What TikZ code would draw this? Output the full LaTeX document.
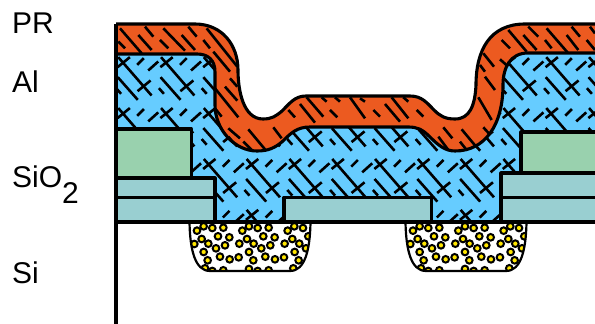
\documentclass[tikz,border=0pt]{standalone}
\usepackage{fontspec}
\setmainfont{Liberation Sans}
\definecolor{alblue}{HTML}{66CCFF}
\definecolor{prorange}{HTML}{EC5A20}
\definecolor{oxgreen}{HTML}{99D1AE}
\definecolor{oxteal}{HTML}{99CFD1}
\definecolor{dopeyellow}{HTML}{FFE600}
\def\outerpath{(116,24) -- (195,24) .. controls (222,24) and (238,45) .. (238,70) .. controls (238,90) and (243,119) .. (263,119) .. controls (272,119) and (276,116) .. (282,111) .. controls (290,103) and (295,96) .. (306,96) -- (410,96) .. controls (422,96) and (427,103) .. (434,110) .. controls (440,116) and (445,119) .. (455,119) .. controls (470,119) and (475,105) .. (476,85) .. controls (476,50) and (490,24) .. (525,24) -- (596,24)}
\def\lowerpath{(596,53) -- (528,53) .. controls (510,53) and (503,68) .. (503,85) .. controls (503,125) and (485,151) .. (455,151) .. controls (445,151) and (438,145) .. (430,137) .. controls (422,129) and (417,127) .. (408,127) -- (310,127) .. controls (297,127) and (291,133) .. (283,141) .. controls (275,148) and (268,151) .. (257,151) .. controls (235,151) and (215,130) .. (215,105) -- (215,72) .. controls (215,60) and (208,54) .. (197,54) -- (116,54)}
\def\wellpath{(189.5,222) .. controls (190,250) and (195,271) .. (210,271) -- (290,271) .. controls (305,271) and (310,250) .. (310.5,222)}
\tikzset{
  outline/.style={line width=3.1pt,draw=black,line join=round},
  hatch/.style={line width=2.6pt,draw=black},
  layerrect/.style={outline},
  label/.style={inner sep=0pt,anchor=base west,font=\fontsize{30pt}{30pt}\selectfont},
}
\begin{document}
\begin{tikzpicture}[x=1pt,y=-1pt]
\useasboundingbox (0,0) rectangle (595,324);
\fill[white] (0,0) rectangle (595,324);
% aluminium layer
\fill[alblue] \lowerpath -- (116,222) -- (596,222) -- cycle;
\begin{scope}
\clip \lowerpath -- (116,222) -- (596,222) -- cycle;
\foreach \i in {-2,...,11}{
 \foreach \j in {-1,...,3}{
  \begin{scope}[shift={({166.7+\i*42.8},{61.5+\j*50.9})},x=0.3333pt,y=-0.3333pt]
   \draw[hatch] (-19,17) -- (18,-13);
   \draw[hatch] (-17,-13) -- (83,102);
   \draw[hatch] (40,10) -- (60,-10);
   \draw[hatch] (73,27) -- (103,0);
   \draw[hatch] (41,89) -- (80,57);
   \draw[hatch] (110,47) -- (170,115);
   \draw[hatch] (105,80) -- (120,97);
  \end{scope}
 }
}
\end{scope}
% photoresist layer
\fill[prorange] \outerpath -- \lowerpath -- cycle;
\begin{scope}
\clip \outerpath -- \lowerpath -- cycle;
\begin{scope}[shift={(100,10)},x=0.3333pt,y=-0.3333pt]
\foreach \a/\b/\c/\d in {60/55/125/130,135/50/160/80,190/55/255/122,265/50/290/80,320/55/412/170,115/75/155/120,245/75/285/120,55/95/75/115,180/90/205/115,310/90/330/115,340/125/390/185,390/205/412/230,375/230/412/272,345/235/415/322,345/295/365/320,385/355/420/385,385/380/410/410,445/358/495/418,520/352/545/385,430/395/455/420,565/300/585/322,600/282/645/338,620/262/670/320,690/300/712/322,665/262/680/275,705/262/720/275}
 {\draw[hatch] (\a,\b) -- (\c,\d);}
\end{scope}
\begin{scope}[shift={(345,10)},x=0.3333pt,y=-0.3333pt]
\foreach \a/\b/\c/\d in {15/262/60/325,45/265/60/275,85/300/105/320,120/282/165/335,140/262/190/325,175/262/190/275,215/300/235/320,280/380/310/420,295/352/322/385,345/395/365/420,350/358/400/418,415/352/445/385,400/262/440/330,420/200/450/240,415/130/447/170,405/165/420/185,465/148/490/170,470/90/495/115,490/60/545/125,550/50/580/80,535/75/575/120,605/55/670/130,600/90/620/115,680/50/705/80,665/75/700/120,735/50/750/70,725/90/750/120}
 {\draw[hatch] (\a,\b) -- (\c,\d);}
\end{scope}
\end{scope}
\draw[outline] \outerpath;
\draw[outline] \lowerpath;
% oxide layers
\draw[layerrect,fill=oxgreen] (116,129) rectangle (191.5,178);
\draw[layerrect,fill=oxteal] (116,178) rectangle (215,197.5);
\draw[layerrect,fill=oxteal] (116,197.5) rectangle (215,222);
\draw[layerrect,fill=oxteal] (284,197.5) rectangle (431.5,222);
\draw[layerrect,fill=oxgreen] (521,132) rectangle (597,173);
\draw[layerrect,fill=oxteal] (501,173) rectangle (597,197.5);
\draw[layerrect,fill=oxteal] (501,197.5) rectangle (597,222);
% doped wells
\foreach \s in {0,216}{
 \begin{scope}[shift={(\s,0)}]
  \begin{scope}
   \clip \wellpath -- cycle;
   \begin{scope}[shift={(100,165)},x=0.3333pt,y=-0.3333pt]
   \foreach \p/\q in {291/197,311/184,337/189,370/188,427/197,447/184,473/189,506/188,563/197,583/184,609/189,305/222,354/214,388/217,441/222,490/214,524/217,577/222,625/214,283/237,325/236,348/250,375/241,418/236,461/236,484/250,511/241,554/236,598/236,618/250,311/261,360/275,389/283,416/277,447/261,496/275,525/283,552/277,584/261,323/286,460/286,596/286,315/310,337/318,370/316,447/312,473/318,506/316,580/310}
    {\draw[line width=2pt,draw=black,fill=dopeyellow] (\p,\q) circle[radius=10];}
   \end{scope}
  \end{scope}
  \draw[line width=2.2pt] \wellpath;
 \end{scope}
}
% silicon surface and left edge
\draw[outline] (116,222) -- (596,222);
\draw[outline] (116,24) -- (116,325);
% labels
\node[label] (pr) at (12,34) {PR};
\node[label] (al) at (12,92) {Al};
\node[label] (sio) at (12,187) {SiO\raisebox{-16pt}{2}};
\node[label] (si) at (12,283) {Si};
\end{tikzpicture}
\end{document}
